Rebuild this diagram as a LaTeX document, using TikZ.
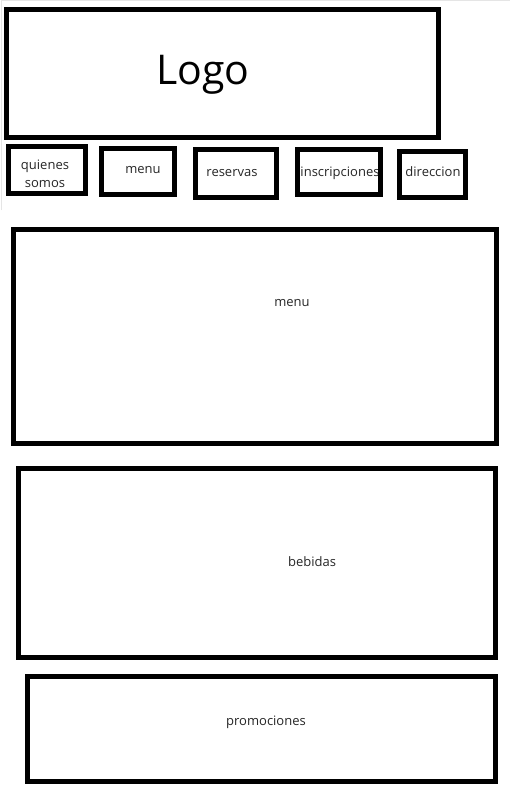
\documentclass[tikz,border=0pt]{standalone}
\usepackage{fontspec}
\setmainfont{Open Sans}
\usepackage{tikz}
\usetikzlibrary{calc,positioning}

\begin{document}
\begin{tikzpicture}[x=1pt,y=-1pt,
    caja/.style={draw=black, line width=5pt, inner sep=0pt, outer sep=0pt},
    boton/.style={draw=black, line width=4.6pt, inner sep=0pt, outer sep=0pt},
    texto/.style={font=\fontsize{13}{18}\selectfont, inner sep=0pt, text=black!85}]
    \useasboundingbox (0,0) rectangle (520,792);
    \fill[white] (0,0) rectangle (520,792);
    \coordinate (M1) at (1,210);
    \coordinate (M2) at (1,1);
    \coordinate (M3) at (510,1);
    \draw[gray!20, line width=1pt] (M1) -- (M2) -- (M3);

    % cabecera
    \node[caja, minimum width=432, minimum height=128] (logo) at (222.5,73.5) {};
    \node[font=\fontsize{41}{48}\selectfont, inner sep=0pt] (logotxt) at (203,75) {Logo};

    % botones
    \node[texto, align=center] (quienestxt) at (45,174) {quienes\\somos};
    \node[boton, minimum width=77, minimum height=47] (quienes) at (47,170) {};
    \node[texto] (menubtxt) at (143,170) {menu};
    \node[boton, minimum width=73.4, minimum height=46.4] (menub) at (138,171.5) {};
    \node[texto] (reservastxt) at (232,173) {reservas};
    \node[boton, minimum width=81.4, minimum height=48.4] (reservas) at (236,173.5) {};
    \node[texto] (inscripcionestxt) at (340,173) {inscripciones};
    \node[boton, minimum width=83.4, minimum height=45.4] (inscripciones) at (339,172) {};
    \node[texto] (direcciontxt) at (433,172) {direccion};
    \node[boton, minimum width=66.4, minimum height=46.4] (direccion) at (432.5,174.5) {};

    % secciones
    \node[caja, minimum width=483, minimum height=214] (menu) at (255,336.5) {};
    \node[texto] (menutxt) at (292,303) {menu};
    \node[caja, minimum width=477, minimum height=189] (bebidas) at (257,563) {};
    \node[texto] (bebidastxt) at (312,562) {bebidas};
    \node[caja, minimum width=468, minimum height=105] (promociones) at (261.5,729) {};
    \node[texto] (promocionestxt) at (266,722) {promociones};
\end{tikzpicture}
\end{document}
